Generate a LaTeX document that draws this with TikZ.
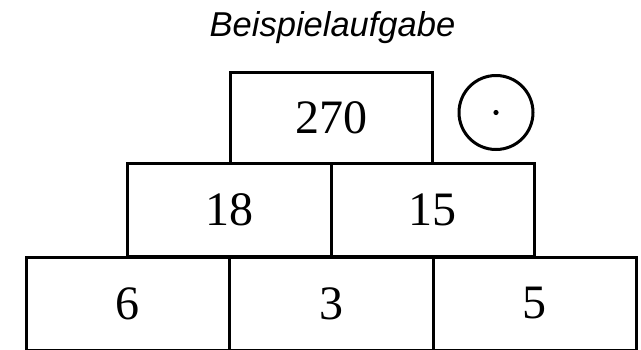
\documentclass[tikz,border=0pt]{standalone}
\usepackage{fontspec}
\setmainfont{Liberation Serif}
\newfontfamily\titlefont{Liberation Sans}
\begin{document}
\begin{tikzpicture}[x=1pt,y=-1pt,
  brick/.style={draw=black,line width=3pt,minimum width=#1,inner sep=0pt,font=\fontsize{48}{48}\selectfont},
  brick/.default=204pt]
\useasboundingbox (0,0) rectangle (641,349);
% bottom row
\node[brick=203pt,minimum height=93pt] (b1) at (127.5,303.5) {6};
\node[brick=204pt,minimum height=93pt] (b2) at (331,303.5) {3};
\node[brick=203pt,minimum height=93pt] (b3) at (534.5,303.5) {5};
% middle row
\node[brick=204pt,minimum height=93pt] (m1) at (229,210) {18};
\node[brick=203pt,minimum height=93pt] (m2) at (432.5,210) {15};
% top
\node[brick=202pt,minimum height=91pt] (t) at (331.5,118) {270};
% operator circle
\node[draw=black,line width=3pt,circle,minimum size=74pt,inner sep=0pt] (op) at (496,112.5) {};
\fill (op.center) circle (2.6pt);
% title
\node[font=\titlefont\itshape\fontsize{34.5}{34.5}\selectfont,anchor=base,inner sep=0pt] (title) at (332.5,36) {Beispielaufgabe};
\end{tikzpicture}
\end{document}
